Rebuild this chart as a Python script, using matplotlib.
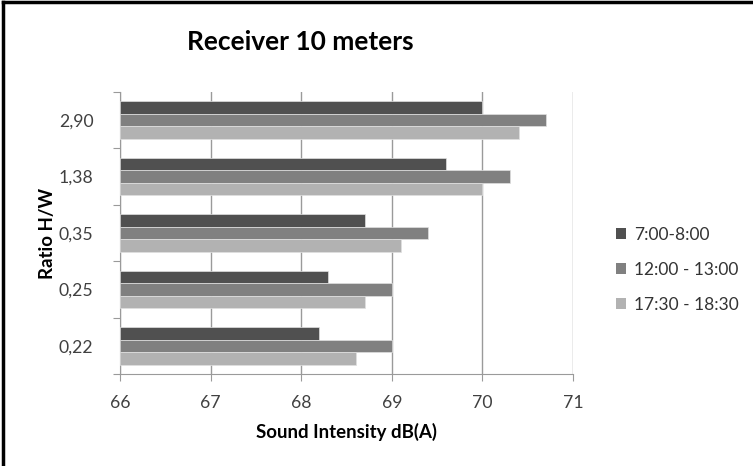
import numpy as np
import matplotlib.pyplot as plt
from matplotlib.lines import Line2D
from matplotlib.patches import Patch

plt.rcParams['font.family'] = ['Lato', 'DejaVu Sans']

ratios = ['0,22', '0,25', '0,35', '1,38', '2,90']
series = ['7:00-8:00', '12:00 - 13:00', '17:30 - 18:30']
morning = [68.2, 68.3, 68.7, 69.6, 70.0]
noon = [69.0, 69.0, 69.4, 70.3, 70.7]
evening = [68.6, 68.7, 69.1, 70.0, 70.4]
colors = ['#505050', '#808080', '#b2b2b2']

fig = plt.figure(figsize=(7.53, 4.66), dpi=100)
ax = fig.add_axes([120/753, 1-374/466, 453/753, 282/466])

y = np.arange(len(ratios))
h = 1/4.5
offsets = [h, 0, -h]
base = 66
for vals, off, c, name in zip([morning, noon, evening], offsets, colors, series):
    ax.barh(y + off, np.array(vals) - base, height=h, left=base, color=c,
            edgecolor='#e0e0e0', linewidth=0.5, label=name, zorder=3)

ax.set_xlim(66, 71)
ax.set_ylim(-0.5, len(ratios) - 0.5)
ax.set_xticks(range(66, 72))
ax.xaxis.grid(True, color='#9a9a9a', linewidth=1, zorder=0)
ax.set_yticks(np.arange(-0.5, len(ratios), 1))
ax.set_yticklabels([])
ax.set_yticks(y, minor=True)
ax.set_yticklabels(ratios, minor=True)
ax.tick_params(axis='y', which='major', length=5, color='#9a9a9a')
ax.tick_params(axis='y', which='minor', length=0, pad=19, labelsize=12.7, labelcolor='#404040')
ax.tick_params(axis='x', length=5, color='#9a9a9a', labelsize=12.7, labelcolor='#404040', pad=10)
for s in ['top', 'right']:
    ax.spines[s].set_visible(False)
for s in ['left', 'bottom']:
    ax.spines[s].set_color('#9a9a9a')

ax.set_xlabel('Sound Intensity dB(A)', fontsize=13.4, fontweight='bold')
ax.set_ylabel('Ratio H/W', fontsize=13.4, fontweight='bold')
ax.xaxis.set_label_coords(0.5, (374-432)/282)
ax.yaxis.set_label_coords((47-120)/453, 0.5)
ax.xaxis.label.set_va('center')
ax.yaxis.label.set_va('center')
fig.text(300/753, 1-42/466, 'Receiver 10 meters', ha='center', va='center',
         fontsize=19, fontweight='bold')

handles = [Patch(facecolor=c, label=n) for c, n in zip(colors, series)]
fig.legend(handles=handles, loc='center left', bbox_to_anchor=(600/753, 1-270/466),
           frameon=False, fontsize=12.5, handlelength=0.6, handleheight=0.6,
           handletextpad=0.45, labelspacing=1.1, labelcolor='#333333')

# chart border (top and left visible in the crop)
fig.add_artist(Line2D([0.004, 0.004], [0, 0.996], color='black', linewidth=2.5))
fig.add_artist(Line2D([0.004, 1], [0.996, 0.996], color='black', linewidth=2.5))

fig.savefig('out.png', dpi=100)
